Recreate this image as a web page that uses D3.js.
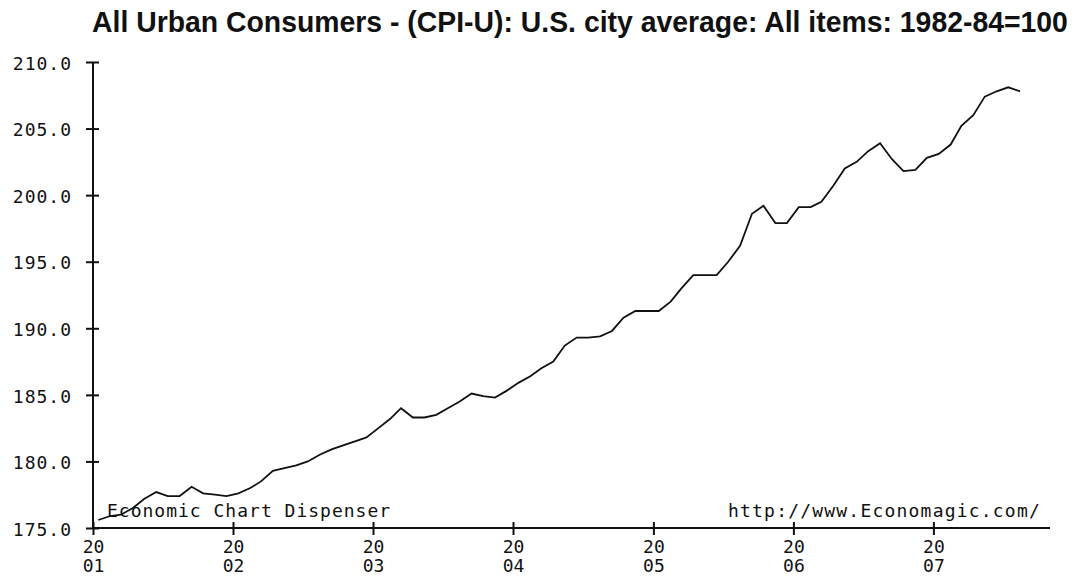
<!DOCTYPE html>
<html>
<head>
<meta charset="utf-8">
<script src="https://cdn.jsdelivr.net/npm/d3@7"></script>
<style>
  body { margin: 0; background: #fff; }
  svg { display: block; }
</style>
</head>
<body>
<svg width="1077" height="577"></svg>
<script>
const titleText = "All Urban Consumers - (CPI-U): U.S. city average: All items: 1982-84=100";
const startYear = 2001;
// monthly values, Jan 2001 .. Aug 2007
const cpiValues = [
  175.6, 175.9, 176.0, 176.5, 177.2, 177.7, 177.4, 177.4, 178.1, 177.6, 177.5, 177.4,
  177.6, 178.0, 178.5, 179.3, 179.5, 179.7, 180.0, 180.5, 180.9, 181.2, 181.5, 181.8,
  182.5, 183.2, 184.0, 183.3, 183.3, 183.5, 184.0, 184.5, 185.1, 184.9, 184.8, 185.3,
  185.9, 186.4, 187.0, 187.5, 188.7, 189.3, 189.3, 189.4, 189.8, 190.8, 191.3, 191.3,
  191.3, 192.0, 193.0, 194.0, 194.0, 194.0, 195.0, 196.2, 198.6, 199.2, 197.9, 197.9,
  199.1, 199.1, 199.5, 200.7, 202.0, 202.5, 203.3, 203.9, 202.7, 201.8, 201.9, 202.8,
  203.1, 203.8, 205.2, 206.0, 207.4, 207.8, 208.1, 207.8
];
const yTicks = [175, 180, 185, 190, 195, 200, 205, 210];
const xTickYears = [2001, 2002, 2003, 2004, 2005, 2006, 2007];
const leftNote = "Economic Chart Dispenser";
const rightNote = "http://www.Economagic.com/";

const svg = d3.select("svg");
const mono = "'DejaVu Sans Mono', 'Liberation Mono', monospace";

const x = d3.scaleTime()
  .domain([new Date(2001, 0, 1), new Date(2007, 10, 1)])
  .range([93, 1050]);
const y = d3.scaleLinear().domain([175, 210]).range([528, 62]);

const data = cpiValues.map((v, i) => ({ date: new Date(startYear, i, 15), value: v }));

// title, squeezed horizontally to look condensed
const title = svg.append("text")
  .attr("x", 0).attr("y", 0)
  .style("font-family", "'Liberation Sans Narrow', 'Liberation Sans', Arial, sans-serif")
  .style("font-weight", "bold").style("font-size", "29px").style("fill", "#111")
  .text(titleText);
const tw = title.node().getComputedTextLength();
title.attr("transform", "translate(92,32) scale(" + (976 / tw) + ",1)");

// y axis
const yAxis = svg.append("g")
  .attr("transform", "translate(93,0)")
  .call(d3.axisLeft(y).tickValues(yTicks).tickFormat(d3.format(".1f")).tickSize(7));
yAxis.select(".domain").attr("stroke", "#111").attr("stroke-width", 2).attr("d", "M0," + y(210) + "V" + y(175));
yAxis.selectAll(".tick line").attr("x1", -7).attr("x2", 6).attr("stroke", "#111").attr("stroke-width", 2);
yAxis.selectAll(".tick text")
  .attr("x", -21).attr("dy", "0.4em")
  .style("font-family", mono).style("font-size", "18px").style("letter-spacing", "1px").style("fill", "#111");

// x axis
const xAxis = svg.append("g")
  .attr("transform", "translate(0,528)")
  .call(d3.axisBottom(x).tickValues(xTickYears.map(yr => new Date(yr, 0, 1))).tickFormat("").tickSize(7));
xAxis.select(".domain").attr("stroke", "#111").attr("stroke-width", 2).attr("d", "M93,0H1050");
xAxis.selectAll(".tick line").attr("y1", -6).attr("y2", 7).attr("stroke", "#111").attr("stroke-width", 2);
xAxis.selectAll(".tick text").remove();
xAxis.selectAll(".tick").each(function(d) {
  const yr = String(d.getFullYear());
  const t = d3.select(this).append("text")
    .attr("text-anchor", "middle").attr("fill", "#111")
    .style("font-family", mono).style("font-size", "18px");
  t.append("tspan").attr("x", 0).attr("y", 25).text(yr.slice(0, 2));
  t.append("tspan").attr("x", 0).attr("y", 44).text(yr.slice(2));
});

// notes
svg.append("text")
  .attr("x", 107).attr("y", 517)
  .style("font-family", mono).style("font-size", "18px").style("letter-spacing", "1px").style("fill", "#111")
  .text(leftNote);
svg.append("text")
  .attr("x", 728).attr("y", 517)
  .style("font-family", mono).style("font-size", "18px").style("letter-spacing", "1.2px").style("fill", "#111")
  .text(rightNote);

// line
const line = d3.line().x(d => x(d.date)).y(d => y(d.value));
svg.append("path")
  .datum(data)
  .attr("d", line)
  .attr("fill", "none")
  .attr("stroke", "#111")
  .attr("stroke-width", 1.8);
</script>
</body>
</html>
